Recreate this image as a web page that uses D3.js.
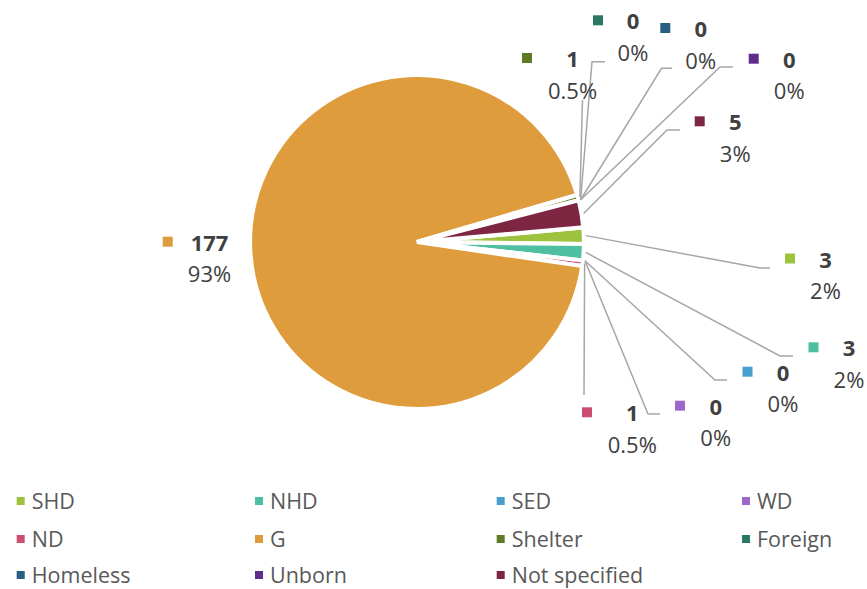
<!DOCTYPE html>
<html>
<head>
<meta charset="utf-8">
<script src="https://cdn.jsdelivr.net/npm/d3@7/dist/d3.min.js"></script>
<style>
  html, body { margin: 0; padding: 0; background: #ffffff; }
  svg { display: block; }
  text { font-family: "Open Sans", "Liberation Sans", sans-serif; }
</style>
</head>
<body>
<div id="chart"></div>
<script>
// ---- data ----
const categories = ["SHD", "NHD", "SED", "WD", "ND", "G", "Shelter", "Foreign", "Homeless", "Unborn", "Not specified"];
const counts     = [3, 3, 0, 0, 1, 177, 1, 0, 0, 0, 5];
const pctLabels  = ["2%", "2%", "0%", "0%", "0.5%", "93%", "0.5%", "0%", "0%", "0%", "3%"];
const colors     = ["#9DC23E", "#4EBFA1", "#4A9ECF", "#9C68CB", "#CC4F72", "#DF9C3D", "#5F7A24", "#2A7763", "#265F82", "#5E2D8C", "#7E2541"];

// ---- layout (label boxes: square x/y, text centre x, leader bend x/y, leader end x) ----
const labelLayout = [
  [790,   258.5, 825.5, 760, 268, 770],
  [813.5, 347.3, 849,   780, 356, 793],
  [747.5, 371.7, 783,   715, 380, 727],
  [680,   405.7, 715.7, 648, 414, 660],
  [587,   412.3, 632.3, 584, 395, 584],
  [167.7, 241.7, 209.5, null, null, null],
  [527,   58,    572.5, 582.5, 100, 582.5],
  [598,   20.3,  633,   592, 61.7, 605],
  [665.3, 28,    700.7, 661.5, 68.3, 672],
  [753.7, 58.7,  789.2, 720, 67, 733],
  [699.7, 121.3, 735.2, 667, 130, 680]
];

const W = 867, H = 589;
const cx = 417, cy = 242, R = 167;
const deg = Math.PI / 180;
const start = 85 * deg;

const svg = d3.select("#chart").append("svg")
  .attr("width", W).attr("height", H);
svg.append("rect").attr("width", W).attr("height", H).attr("fill", "#ffffff");

const rows = categories.map((c, i) => ({ name: c, value: counts[i], pct: pctLabels[i], color: colors[i], layout: labelLayout[i], idx: i }));

const pie = d3.pie().sort(null).value(d => d.value)
  .startAngle(start).endAngle(start + 2 * Math.PI);
const arcs = pie(rows);
const arc = d3.arc().innerRadius(0).outerRadius(R);

const g = svg.append("g").attr("transform", `translate(${cx},${cy})`);
g.selectAll("path.slice")
  .data(arcs.filter(a => a.data.value > 0))
  .join("path")
  .attr("class", "slice")
  .attr("d", arc)
  .attr("fill", a => a.data.color)
  .attr("stroke", "#ffffff")
  .attr("stroke-width", 4.2);

// leader lines
const lead = svg.append("g");
arcs.forEach(a => {
  const L = a.data.layout;
  if (L[3] === null) return;
  const mid = (a.startAngle + a.endAngle) / 2;
  const r0 = R + 2;
  const x0 = cx + r0 * Math.sin(mid), y0 = cy - r0 * Math.cos(mid);
  const pts = [[x0, y0], [L[3], L[4]], [L[5], L[4]]];
  lead.append("path")
    .attr("d", d3.line()(pts))
    .attr("fill", "none")
    .attr("stroke", "#A6A6A6")
    .attr("stroke-width", 1.5);
});

// data labels
const lab = svg.append("g");
arcs.forEach(a => {
  const L = a.data.layout;
  const sq = 10;
  lab.append("rect")
    .attr("x", L[0] - sq / 2).attr("y", L[1] - sq / 2)
    .attr("width", sq).attr("height", sq)
    .attr("fill", a.data.color);
  lab.append("text")
    .attr("x", L[2]).attr("y", L[1] + 9)
    .attr("text-anchor", "middle")
    .attr("font-size", 22).attr("font-weight", 700)
    .attr("fill", "#404040")
    .text(a.data.value);
  lab.append("text")
    .attr("x", L[2]).attr("y", L[1] + 40.7)
    .attr("text-anchor", "middle")
    .attr("font-size", 22)
    .attr("fill", "#404040")
    .text(a.data.pct);
});

// legend
const legColX = [31.7, 270, 511.7, 757];
const legRowY = [509, 547, 583];
const leg = svg.append("g");
rows.forEach((d, i) => {
  const col = i % 4, row = Math.floor(i / 4);
  const tx = legColX[col], ty = legRowY[row];
  leg.append("rect")
    .attr("x", tx - 15).attr("y", ty - 12)
    .attr("width", 8).attr("height", 8)
    .attr("fill", d.color);
  leg.append("text")
    .attr("x", tx).attr("y", ty)
    .attr("font-size", 21.5)
    .attr("fill", "#595959")
    .text(d.name);
});
</script>
</body>
</html>
